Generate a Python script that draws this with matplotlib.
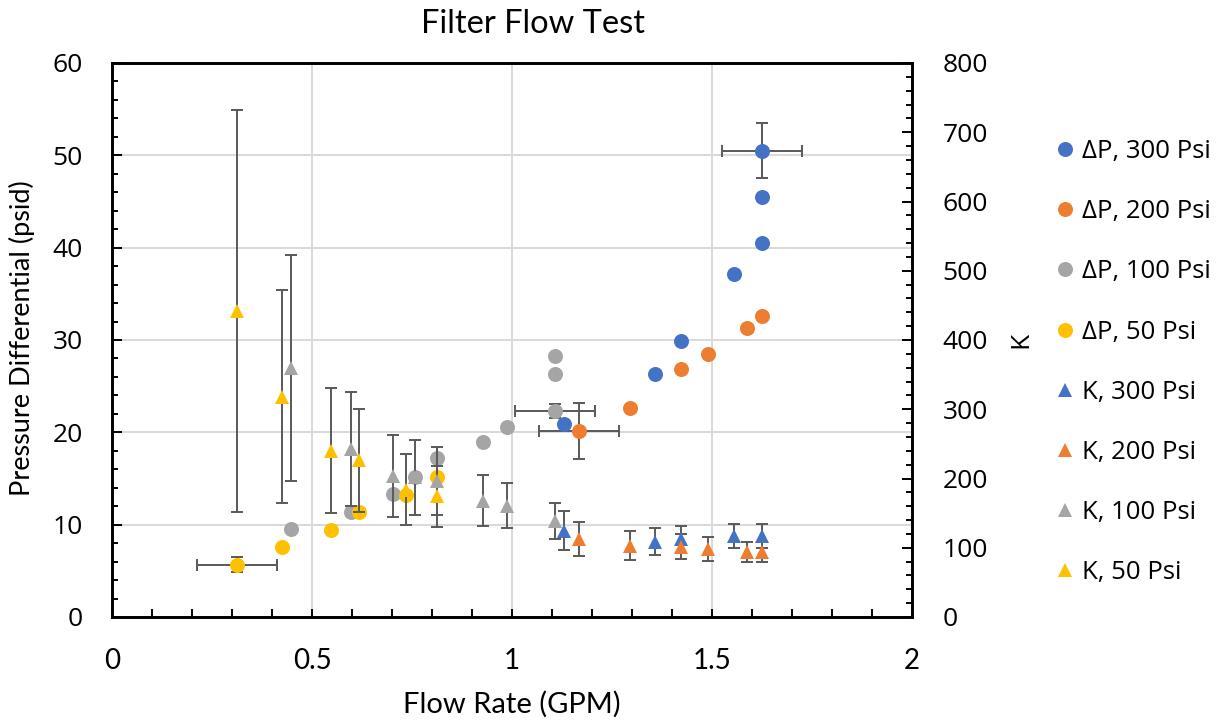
import matplotlib
matplotlib.use("Agg")
import matplotlib.pyplot as plt
from matplotlib.ticker import MultipleLocator, FuncFormatter
from matplotlib.lines import Line2D

# ---------------- data ----------------
title = "Filter Flow Test"
xlabel = "Flow Rate (GPM)"
ylabel_left = "Pressure Differential (psid)"
ylabel_right = "K"

# Delta P series (left axis)
dp300_x = [1.131, 1.3575, 1.4225, 1.556, 1.624, 1.624, 1.624]
dp300_y = [20.87, 26.3, 29.9, 37.1, 40.55, 45.5, 50.5]
dp200_x = [1.168, 1.295, 1.4225, 1.489, 1.588, 1.624]
dp200_y = [20.15, 22.6, 26.9, 28.5, 31.3, 32.6]
dp100_x = [0.448, 0.597, 0.703, 0.758, 0.813, 0.928, 0.987, 1.1075, 1.1075, 1.1075]
dp100_y = [9.5, 11.34, 13.29, 15.2, 17.2, 19.0, 20.6, 22.3, 26.3, 28.3]
dp50_x = [0.3125, 0.425, 0.547, 0.618, 0.735, 0.813]
dp50_y = [5.66, 7.55, 9.42, 11.34, 13.2, 15.2]

# error bars on selected Delta P points: (x, y, xerr, yerr)
dp300_err = [(1.624, 50.5, 0.1, 3.0)]
dp200_err = [(1.168, 20.15, 0.1, 3.0)]
dp100_err = [(1.1075, 22.3, 0.1, 0.8)]
dp50_err = [(0.3125, 5.66, 0.1, 0.8)]

# K series (right axis)
k300_x = [1.131, 1.3575, 1.4225, 1.556, 1.624]
k300_y = [124.5, 109, 112, 117, 117]
k300_e = [28, 20, 20, 17.5, 17.5]
k200_x = [1.168, 1.295, 1.4225, 1.489, 1.588, 1.624]
k200_y = [112.4, 103, 101.5, 98, 94.4, 94.4]
k200_e = [25, 21, 18, 17, 14.5, 14.5]
k100_x = [0.448, 0.597, 0.703, 0.758, 0.813, 0.928, 0.987, 1.1075]
k100_y = [360, 242.5, 204, 201.5, 197, 168, 161, 139]
k100_e = [163, 82.5, 59, 54.5, 49, 37, 33, 26]
k50_x = [0.3125, 0.425, 0.547, 0.618, 0.735, 0.813]
k50_y = [442, 318, 240, 226, 184, 174.5]
k50_e = [290, 154, 90, 74, 51.5, 44]

labels = ["ΔP, 300 Psi", "ΔP, 200 Psi", "ΔP, 100 Psi", "ΔP, 50 Psi",
          "K, 300 Psi", "K, 200 Psi", "K, 100 Psi", "K, 50 Psi"]
colors = ["#4472C4", "#ED7D31", "#A5A5A5", "#FFC000"]

# ---------------- plot ----------------
W, H = 1216, 722
fig = plt.figure(figsize=(W / 100, H / 100), dpi=100)
ax = fig.add_axes([112 / W, 1 - 617 / H, 800 / W, 554 / H])
ax2 = ax.twinx()

ERR_C = "#595959"
MS = 10.8
TS = 10.5

dp_sets = [(dp300_x, dp300_y, dp300_err), (dp200_x, dp200_y, dp200_err),
           (dp100_x, dp100_y, dp100_err), (dp50_x, dp50_y, dp50_err)]
for (xs, ys, errs), c in zip(dp_sets, colors):
    for (ex, ey, exe, eye) in errs:
        ax.errorbar([ex], [ey], xerr=[exe], yerr=[eye], fmt="none", ecolor=ERR_C,
                    elinewidth=1.4, capsize=4.3, capthick=1.4, zorder=2)
    ax.plot(xs, ys, "o", color=c, markersize=MS, markeredgewidth=0, zorder=3)

k_sets = [(k300_x, k300_y, k300_e), (k200_x, k200_y, k200_e),
          (k100_x, k100_y, k100_e), (k50_x, k50_y, k50_e)]
for (xs, ys, es), c in zip(k_sets, colors):
    ax2.errorbar(xs, ys, yerr=es, fmt="none", ecolor=ERR_C,
                 elinewidth=1.4, capsize=4.3, capthick=1.4, zorder=2)
    ax2.plot(xs, ys, "^", color=c, markersize=TS, markeredgewidth=0, zorder=3)

# axes
ax.set_xlim(0, 2)
ax.set_ylim(0, 60)
ax2.set_ylim(0, 800)
ax.xaxis.set_major_locator(MultipleLocator(0.5))
ax.xaxis.set_minor_locator(MultipleLocator(0.1))
ax.yaxis.set_major_locator(MultipleLocator(10))
ax.yaxis.set_minor_locator(MultipleLocator(2))
ax2.yaxis.set_major_locator(MultipleLocator(100))
ax2.yaxis.set_minor_locator(MultipleLocator(20))
ax.xaxis.set_major_formatter(FuncFormatter(lambda v, p: f"{v:g}"))

ax.grid(True, which="major", color="#D9D9D9", linewidth=1.4, zorder=0)
ax.set_axisbelow(True)
for a in (ax, ax2):
    for s in a.spines.values():
        s.set_linewidth(1.9)
        s.set_color("black")

ax.tick_params(axis="x", which="both", direction="in", length=6, width=1.4, pad=22,
               labelsize=20)
ax.tick_params(axis="y", which="major", direction="in", length=7.5, width=1.4, pad=21,
               labelsize=19)
ax.tick_params(axis="y", which="minor", direction="in", length=4.5, width=1.4)
ax2.tick_params(axis="y", which="major", direction="in", length=7.5, width=1.4, pad=22,
                labelsize=19)
ax2.tick_params(axis="y", which="minor", direction="in", length=4.5, width=1.4)

for lab in ax.get_xticklabels():
    lab.set_fontfamily("Lato")
for lab in ax.get_yticklabels() + ax2.get_yticklabels():
    lab.set_fontfamily("Open Sans")

fig.text(533 / W, 1 - 24 / H, title, ha="center", va="center",
         fontsize=23.5, family="Lato")
fig.text(512 / W, 1 - 704 / H, xlabel, ha="center", va="center", fontsize=21, family="Lato")
fig.text(22 / W, 1 - 338 / H, ylabel_left, ha="center", va="center", rotation=90,
         fontsize=19.5, family="Lato")
fig.text(1021 / W, 1 - 340 / H, ylabel_right, ha="center", va="center", rotation=90,
         fontsize=19, family="Open Sans")

# legend
handles = []
for c in colors:
    handles.append(Line2D([], [], linestyle="none", marker="o", color=c,
                          markersize=MS, markeredgewidth=0))
for c in colors:
    handles.append(Line2D([], [], linestyle="none", marker="^", color=c,
                          markersize=TS, markeredgewidth=0))
leg = fig.legend(handles, labels, loc="upper left", bbox_to_anchor=(1055 / W, 1 - 139 / H),
                 frameon=False, prop={"family": "Open Sans", "size": 18.5},
                 handlelength=0.8, handletextpad=0.25, labelspacing=1.37,
                 borderaxespad=0, borderpad=0)

fig.savefig("out.png", dpi=100)
